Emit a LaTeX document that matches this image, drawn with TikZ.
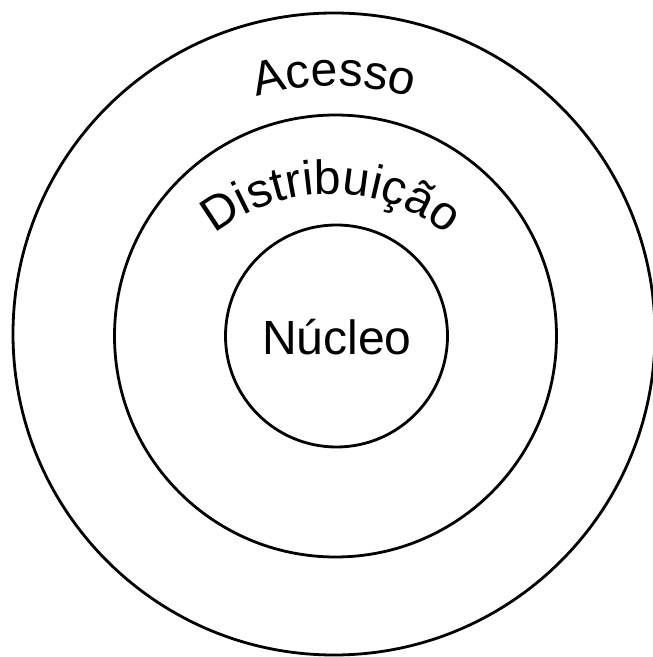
\documentclass[tikz,border=0pt]{standalone}
\usepackage{fontspec}
\setmainfont{Liberation Sans}
\usetikzlibrary{decorations.text}
\newcommand{\ringfont}{\fontsize{48}{56}\selectfont}
\tikzset{
  ring/.style={line width=2.8pt, black},
  ringlabel/.style={decorate, decoration={text along path, text align=center, text={#1}}}
}
\begin{document}
\begin{tikzpicture}[x=1pt, y=1pt]
  \useasboundingbox (0,0) rectangle (653,657);
  % rings
  \foreach \cx/\cy/\r in {334/323/321, 335.5/321/221, 336.5/321/111} {
    \draw[ring] (\cx,\cy) circle[radius=\r];
  }
  % curved labels
  \path[ringlabel={|\ringfont|Acesso}] (334,301) ++(122:270) arc[start angle=122, end angle=58, radius=270];
  \path[ringlabel={|\ringfont|Distribuição}] (331,277) ++(135:186) arc[start angle=135, end angle=45, radius=186];
  \node[anchor=base, font=\ringfont, inner sep=0pt] (nucleo) at (337,302) {Núcleo};
\end{tikzpicture}
\end{document}
